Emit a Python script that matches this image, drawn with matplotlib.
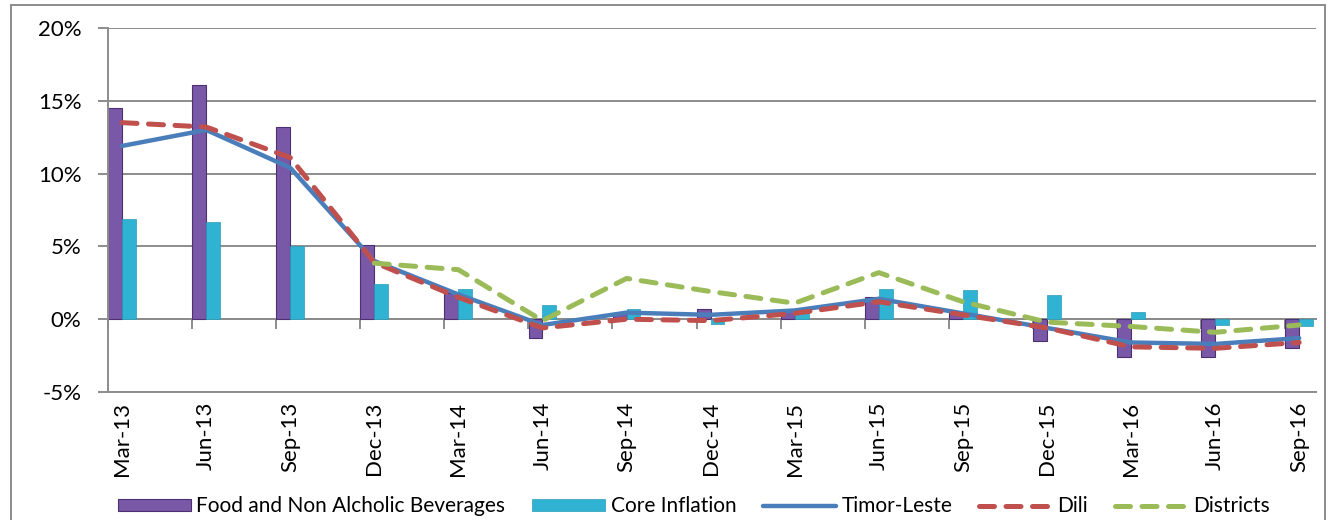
import numpy as np
import matplotlib
matplotlib.use("Agg")
import matplotlib.pyplot as plt
from matplotlib.patches import Rectangle

plt.rcParams['font.family'] = ['Lato', 'DejaVu Sans']

quarters = ["Mar-13", "Jun-13", "Sep-13", "Dec-13", "Mar-14", "Jun-14", "Sep-14",
            "Dec-14", "Mar-15", "Jun-15", "Sep-15", "Dec-15", "Mar-16", "Jun-16", "Sep-16"]

food = [14.5, 16.1, 13.2, 5.1, 1.8, -1.3, 0.4, 0.7, 0.6, 1.5, 0.4, -1.5, -2.6, -2.6, -2.0]
core = [6.9, 6.7, 5.0, 2.4, 2.1, 1.0, 0.7, -0.3, 0.5, 2.1, 2.0, 1.65, 0.5, -0.4, -0.5]
timor_leste = [11.9, 13.0, 10.4, 4.0, 1.7, -0.4, 0.45, 0.3, 0.6, 1.4, 0.4, -0.6, -1.6, -1.7, -1.3]
dili = [13.5, 13.2, 11.1, 3.9, 1.5, -0.6, 0.0, -0.1, 0.4, 1.2, 0.3, -0.6, -1.9, -2.0, -1.6]
districts = [np.nan, np.nan, np.nan, 3.85, 3.4, -0.1, 2.8, 1.9, 1.1, 3.2, 1.2, -0.2, -0.5, -0.9, -0.4]

y_ticks = [-5, 0, 5, 10, 15, 20]

grey = "#8C8C8C"

fig = plt.figure(figsize=(13.35, 5.2), dpi=100)
ax = fig.add_axes([108 / 1335, 1 - 392 / 520, (1316 - 108) / 1335, (392 - 28) / 520])

x = np.arange(len(quarters))
w = 0.165
ax.bar(x - w / 2, food, width=w, color="#7A58A8", edgecolor="#4A3170", linewidth=0.8,
       label="Food and Non Alcholic Beverages", zorder=2)
ax.bar(x + w / 2, core, width=w, color="#30B2D2", edgecolor="#2A9BB8", linewidth=0.5,
       label="Core Inflation", zorder=2)

ax.plot(x, timor_leste, color="#4A7EBB", lw=3.2, solid_capstyle="round",
        solid_joinstyle="round", label="Timor-Leste", zorder=3)
ax.plot(x, dili, color="#C0504D", lw=3.6, dashes=(3.0, 2.3), dash_capstyle="round",
        label="Dili", zorder=4)
ax.plot(x, districts, color="#9BBB59", lw=3.6, dashes=(3.0, 2.3), dash_capstyle="round",
        label="Districts", zorder=5)

ax.set_xlim(-0.167, len(quarters) - 1 + 0.2)
ax.set_ylim(-5, 20)
ax.set_yticks(y_ticks)
ax.set_yticklabels([f"{v}%" for v in y_ticks], fontsize=16)
ax.yaxis.grid(True, color=grey, lw=1.4, zorder=0)
ax.set_axisbelow(True)

ax.set_xticks(x)
ax.set_xticklabels(quarters, rotation=90, fontsize=16)
ax.tick_params(axis="x", length=0, pad=7)
ax.tick_params(axis="y", length=7, color=grey, width=1.4, pad=12)

for s in ["top", "right"]:
    ax.spines[s].set_visible(False)
ax.spines["left"].set_color(grey)
ax.spines["left"].set_linewidth(1.4)
ax.spines["bottom"].set_color(grey)
ax.spines["bottom"].set_linewidth(1.4)

# zero line with category tick marks
zero = ax.secondary_xaxis(5 / 25)
zero.set_xticks(x - 0.167)
zero.tick_params(axis="x", length=7, color=grey, width=1.4, labelbottom=False)
zero.spines["bottom"].set_color(grey)
zero.spines["bottom"].set_linewidth(1.4)

handles, labels = ax.get_legend_handles_labels()
order = [3, 4, 0, 1, 2]
fig.legend([handles[i] for i in order], [labels[i] for i in order],
           loc="center", bbox_to_anchor=(0.52, 0.026), ncol=5, frameon=False,
           fontsize=15, handlelength=3.5, handleheight=0.55, handletextpad=0.25,
           columnspacing=1.3)

fig.patches.append(Rectangle((11 / 1335, -0.1), (1325 - 11) / 1335, 1.1 - 5 / 520,
                             transform=fig.transFigure, fill=False, edgecolor=grey,
                             lw=1.4))

fig.savefig("out.png", dpi=100)
